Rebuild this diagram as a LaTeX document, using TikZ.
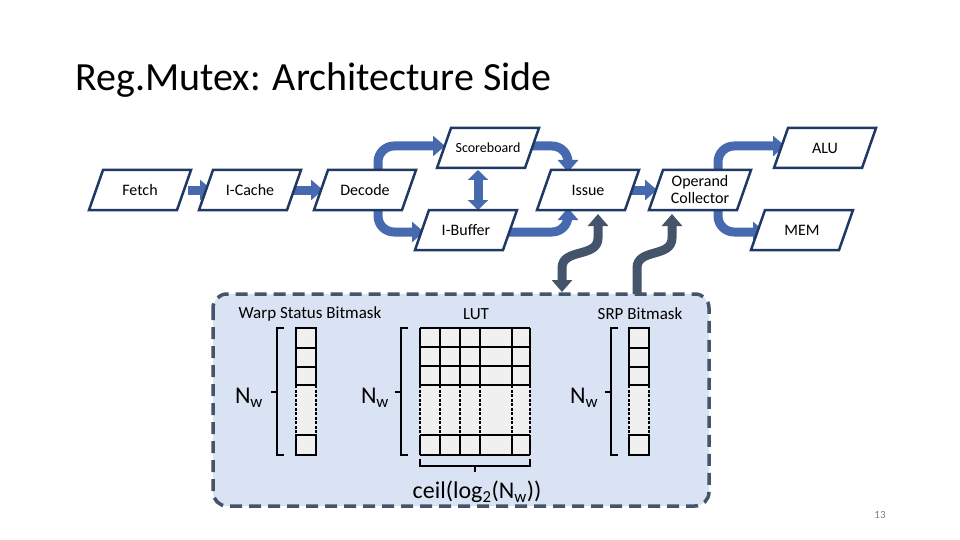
\documentclass[tikz,border=0pt]{standalone}
\usepackage{fontspec}
\setmainfont{Carlito}
\usetikzlibrary{arrows.meta}
\definecolor{bx}{RGB}{31,56,100}
\definecolor{ba}{RGB}{70,105,175}
\definecolor{da}{RGB}{68,84,106}
\definecolor{pan}{RGB}{218,227,243}
\definecolor{cel}{RGB}{240,240,240}
\tikzset{
 x=1pt,y=-1pt,
 pb/.style={minimum width=88pt,minimum height=40pt,inner sep=0pt,font=\fontsize{16}{16}\selectfont,align=center},
 fl/.style={line width=9pt,draw=ba,-{Triangle[width=20pt,length=12pt]}},
 fl2/.style={line width=9pt,draw=ba,{Triangle[width=20pt,length=10pt]}-{Triangle[width=20pt,length=10pt]}},
 dk/.style={line width=9pt,draw=da,-{Triangle[width=20pt,length=12pt]}},
 dk2/.style={line width=9pt,draw=da,{Triangle[width=20pt,length=12pt]}-{Triangle[width=20pt,length=12pt]}},
 lbl/.style={font=\fontsize{17}{18}\selectfont},
 brk/.style={line width=2pt},
 nw/.style={font=\fontsize{24}{24}\selectfont},
}
\newcommand\pbox[4]{%
 \path (#2,#3) coordinate (#1c);
 \draw[bx,line width=2.5pt,fill=white] ($(#1c)+(-37,-20)$) -- ($(#1c)+(51,-20)$) -- ($(#1c)+(37,20)$) -- ($(#1c)+(-51,20)$) -- cycle;
 \node[pb] (#1) at (#1c) {#4};}
\newcommand\col[3]{% x, top, width
 \fill[cel] (#1,#2) rectangle ++(#3,127);
 \draw[line width=2pt] (#1,#2) rectangle ++(#3,57);
 \draw[line width=2pt] (#1,#2+20)--++(#3,0) (#1,#2+39)--++(#3,0);
 \draw[line width=2pt,dash pattern=on 3pt off 1.5pt] (#1,#2+57)--++(0,50) (#1+#3,#2+57)--++(0,50);
 \draw[line width=2pt] (#1,#2+107) rectangle ++(#3,20);}
\newcommand\vbr[1]{% x of bracket line
 \draw[brk] (#1+7,328) -- (#1,328) -- (#1,455) -- (#1+7,455);
 \draw[brk] (#1,392) -- (#1-6,392);}
\usetikzlibrary{calc}
\begin{document}
\begin{tikzpicture}
\useasboundingbox (0,0) rectangle (960,540);
\node[anchor=west,font=\fontsize{40}{44}\selectfont] (title) at (72,80) {Reg.Mutex: Architecture Side};
% arrows
\draw[fl] (188,190)--(212,190);
\draw[fl] (292,190)--(323,190);
\draw[fl,rounded corners=16pt] (378,172) |- (445,146);
\draw[fl,rounded corners=16pt] (378,208) |- (424,232);
\draw[fl,rounded corners=16pt] (522,146) -| (568,172);
\draw[fl,rounded corners=16pt] (500,232) -| (568,208);
\draw[fl2] (478,170)--(478,210);
\draw[fl] (628,190)--(657,190);
\draw[fl,rounded corners=16pt] (718,172) |- (785,146);
\draw[fl,rounded corners=16pt] (718,208) |- (765,232);
% boxes
\pbox{fetch}{140}{190}{Fetch}
\pbox{icache}{250}{190}{I-Cache}
\pbox{decode}{365}{190}{Decode}
\pbox{score}{488}{148}{\fontsize{14}{14}\selectfont Scoreboard}
\pbox{issue}{588}{190}{Issue}
\pbox{opc}{700}{190}{Operand\\[1pt]Collector}
\pbox{alu}{825}{148}{ALU}
\pbox{ibuf}{466}{230}{I-Buffer}
\pbox{mem}{802}{230}{MEM}
% panel
\draw[da,line width=3.5pt,fill=pan,rounded corners=14pt,dash pattern=on 12pt off 7pt] (213,294) rectangle (709,506);
% dark arrows
\draw[dk2] (598,214)--(598,238) .. controls (598,258) and (562,248) .. (562,268) -- (562,292);
\draw[dk] (637,294)--(637,268) .. controls (637,248) and (672,258) .. (672,238) -- (672,214);
% labels
\node[lbl] (wl) at (310,314) {Warp Status Bitmask};
\node[lbl] (ll) at (476,314) {LUT};
\node[lbl] (sl) at (640,314) {SRP Bitmask};
\col{296}{328}{20}
\col{629}{328}{20}
% LUT
\fill[cel] (420,328) rectangle (530,455);
\foreach \y in {328,347,366,385,435,455} \draw[line width=2pt] (420,\y)--(530,\y);
\foreach \x in {420,440,460,480,512,530} {
 \draw[line width=2pt] (\x,328)--(\x,385);
 \draw[line width=2pt,dash pattern=on 3pt off 1.5pt] (\x,385)--(\x,435);
 \draw[line width=2pt] (\x,435)--(\x,455);}
\vbr{277}
\vbr{401}
\vbr{611}
\draw[brk] (420,459) -- (420,466) -- (530,466) -- (530,459);
\draw[brk] (475,466) -- (475,472);
\node[nw] (n1) at (249,398) {N\textsubscript{w}};
\node[nw] (n2) at (375,398) {N\textsubscript{w}};
\node[nw] (n3) at (584,398) {N\textsubscript{w}};
\node[nw] (ce) at (477,492) {ceil(log\textsubscript{2}(N\textsubscript{w}))};
\node[font=\fontsize{11}{12}\selectfont,text=gray] (pg) at (880,515) {13};
\end{tikzpicture}
\end{document}
